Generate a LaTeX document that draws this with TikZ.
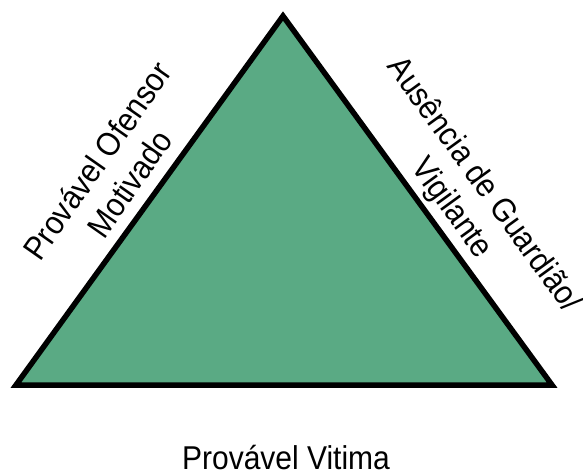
\documentclass[tikz,border=0pt]{standalone}
\usepackage{fontspec}
\setmainfont{Liberation Sans}
\definecolor{trigreen}{HTML}{5AAA84}
\begin{document}
\begin{tikzpicture}[x=1pt,y=-1pt,
  lbl/.style={align=center,inner sep=0pt,transform shape,font=\fontsize{30}{36}\selectfont}]
\useasboundingbox (0,0) rectangle (583,473);
\coordinate (apex) at (283,16);
\coordinate (bl) at (16,385);
\coordinate (br) at (552,385);
\draw[line width=5.5pt,line join=miter,fill=trigreen] (apex) -- (br) -- (bl) -- cycle;
\node[lbl,rotate=55,yscale=1.1] (off) at (113,172) {Provável Ofensor\\Motivado};
\node[lbl,rotate=-54,yscale=1.1] (gua) at (467,197) {Ausência de Guardião/\\Vigilante};
\node[lbl,yscale=1.1] (vit) at (286,458) {Provável Vitima};
\end{tikzpicture}
\end{document}
